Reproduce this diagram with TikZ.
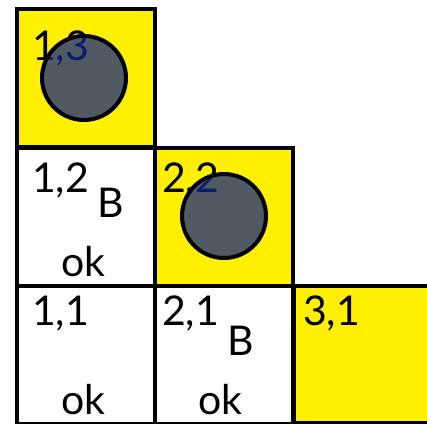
\documentclass[tikz,border=0pt]{standalone}
\usepackage{fontspec}
\setmainfont{Lato}
\definecolor{cellyellow}{HTML}{FFF000}
\definecolor{pitgray}{HTML}{505A64}
\definecolor{navytext}{HTML}{0A1B70}
\begin{document}
\begin{tikzpicture}[x=1pt,y=-1pt,
  cellbox/.style={draw=black,line width=4pt,minimum width=138pt,minimum height=138pt,inner sep=0pt,anchor=north west},
  lbl/.style={font=\fontsize{41}{41}\selectfont,inner sep=0pt,anchor=base west},
  pit/.style={circle,draw=black,line width=4pt,fill=pitgray,minimum size=84pt,inner sep=0pt}]
\useasboundingbox (0,0) rectangle (427,423);
\clip (0,0) rectangle (427,423);
% cells
\node[cellbox,fill=cellyellow] (c13) at (15,7) {};
\node[cellbox,fill=white] (c12) at (15,146) {};
\node[cellbox,fill=cellyellow] (c22) at (153,146) {};
\node[cellbox,fill=white] (c11) at (15,284) {};
\node[cellbox,fill=white] (c21) at (153,284) {};
\node[cellbox,fill=cellyellow,minimum height=137pt] (c31) at (292,284) {};
% labels
\node[lbl] (t13) at (32,60) {1,3};
\node[lbl] (t12) at (32,192) {1,2};
\node[lbl] (b12) at (97,217) {B};
\node[lbl] (o12) at (61,276) {ok};
\node[lbl] (t22) at (162,192) {2,2};
\node[lbl] (t11) at (32,325) {1,1};
\node[lbl] (o11) at (61,414) {ok};
\node[lbl] (t21) at (162,325) {2,1};
\node[lbl] (b21) at (227,355) {B};
\node[lbl] (o21) at (198,414) {ok};
\node[lbl] (t31) at (303,325) {3,1};
% pits
\node[pit] (p13) at (84,78) {};
\node[pit] (p22) at (224,216) {};
% text seen through the pits
\begin{scope}
\clip (84,78) circle (40pt);
\node[lbl,text=navytext] at (32,60) {1,3};
\end{scope}
\begin{scope}
\clip (224,216) circle (40pt);
\node[lbl,text=navytext] at (162,192) {2,2};
\end{scope}
\end{tikzpicture}
\end{document}
